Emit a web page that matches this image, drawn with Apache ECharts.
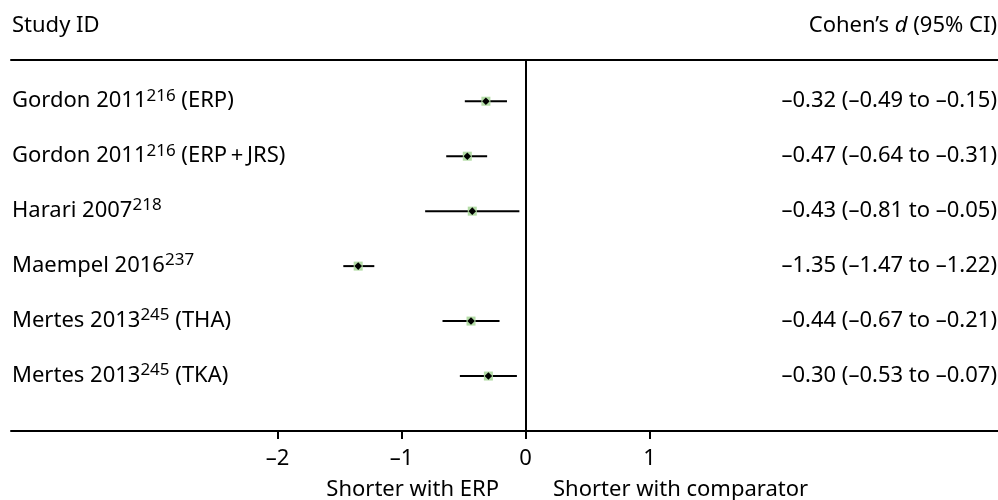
<!DOCTYPE html>
<html><head><meta charset="utf-8">
<script src="https://cdn.jsdelivr.net/npm/echarts@6/dist/echarts.min.js"></script>
<style>html,body{margin:0;padding:0;background:#fff}#c{width:998px;height:500px}</style>
</head><body><div id="c"></div>
<script>
const studies = ['Gordon 2011', 'Gordon 2011', 'Harari 2007', 'Maempel 2016', 'Mertes 2013', 'Mertes 2013'];
const refs = ['216', '216', '218', '237', '245', '245'];
const suffixes = [' (ERP)', ' (ERP\u2009+\u2009JRS)', '', '', ' (THA)', ' (TKA)'];
const estimates = [-0.32, -0.47, -0.43, -1.35, -0.44, -0.30];
const lower = [-0.49, -0.64, -0.81, -1.47, -0.67, -0.53];
const upper = [-0.15, -0.31, -0.05, -1.22, -0.21, -0.07];
const xTicks = [-2, -1, 0, 1];

const FONT = 'Noto Sans';
const FS = 22;
const dash = s => s.replace(/-/g, '\u2013');
const fmt = v => dash(v.toFixed(2));

const data = estimates.map((e, i) => [e, i + 1, lower[i], upper[i], i]);

const chart = echarts.init(document.getElementById('c'));
chart.setOption({
  animation: false,
  backgroundColor: '#fff',
  textStyle: { fontFamily: FONT },
  grid: { left: 11, right: 0, top: 60, bottom: 69, containLabel: false },
  xAxis: [{
    type: 'value', min: -4.15, max: 3.81, position: 'bottom',
    axisLine: { show: true, onZero: false, lineStyle: { color: '#000', width: 2 } },
    axisTick: { show: true, customValues: xTicks, length: 8, lineStyle: { color: '#000', width: 2 } },
    axisLabel: { customValues: xTicks, formatter: v => dash(String(v)), color: '#000', fontSize: FS, fontFamily: FONT, margin: 17 },
    splitLine: { show: false }
  }, {
    type: 'value', min: -4.15, max: 3.81, position: 'top',
    axisLine: { show: true, onZero: false, lineStyle: { color: '#000', width: 2 } },
    axisTick: { show: false }, axisLabel: { show: false }, splitLine: { show: false }
  }],
  yAxis: {
    type: 'value', min: 0.25, max: 7, inverse: true, show: false
  },
  graphic: [
    { type: 'text', x: 12, y: 26, style: { text: 'Study ID', font: `${FS}px "${FONT}"`, fill: '#000', verticalAlign: 'middle' } },
    { type: 'text', x: 997, y: 26, style: {
      text: '{n|Cohen\u2019s }{i|d}{n| (95% CI)}', align: 'right', verticalAlign: 'middle',
      rich: {
        n: { fontSize: FS, fontFamily: FONT, color: '#000' },
        i: { fontSize: FS, fontFamily: FONT, fontStyle: 'italic', color: '#000' }
      } } },
    { type: 'text', x: 499, y: 490, style: { text: 'Shorter with ERP', font: `${FS}px "${FONT}"`, fill: '#000', align: 'right', verticalAlign: 'middle' } },
    { type: 'text', x: 553, y: 490, style: { text: 'Shorter with comparator', font: `${FS}px "${FONT}"`, fill: '#000', align: 'left', verticalAlign: 'middle' } }
  ],
  series: [{
    type: 'custom',
    xAxisIndex: 0,
    clip: false,
    data: data,
    encode: { x: 0, y: 1 },
    markLine: {
      silent: true, symbol: 'none', label: { show: false },
      lineStyle: { color: '#000', width: 2, type: 'solid' },
      data: [{ xAxis: 0 }]
    },
    renderItem: function (params, api) {
      const est = api.value(0), row = api.value(1), lo = api.value(2), hi = api.value(3), idx = api.value(4);
      const c = api.coord([est, row]);
      const pl = api.coord([lo, row]);
      const ph = api.coord([hi, row]);
      const cs = params.coordSys;
      const b = 4.5, d = 3.8;
      return {
        type: 'group',
        children: [
          { type: 'line', shape: { x1: pl[0], y1: pl[1], x2: ph[0], y2: ph[1] }, style: { stroke: '#000', lineWidth: 2 } },
          { type: 'rect', shape: { x: c[0] - b, y: c[1] - b, width: 2 * b, height: 2 * b }, style: { fill: '#b3dca6' } },
          { type: 'polygon', shape: { points: [[c[0], c[1] - d], [c[0] + d, c[1]], [c[0], c[1] + d], [c[0] - d, c[1]]] }, style: { fill: '#000' } },
          { type: 'text', x: cs.x + 1, y: c[1], style: {
              text: `{n|${studies[idx]}}{s|${refs[idx]}}{n|${suffixes[idx]}}`,
              verticalAlign: 'middle', align: 'left',
              rich: {
                n: { fontSize: FS, fontFamily: FONT, color: '#000', lineHeight: 28 },
                s: { fontSize: 17, fontFamily: FONT, color: '#000', lineHeight: 16, verticalAlign: 'top' }
              } } },
          { type: 'text', x: cs.x + cs.width - 1, y: c[1], style: {
              text: `${fmt(est)} (${fmt(lo)} to ${fmt(hi)})`,
              font: `${FS}px "${FONT}"`, fill: '#000', verticalAlign: 'middle', align: 'right' } }
        ]
      };
    }
  }]
});
</script></body></html>
